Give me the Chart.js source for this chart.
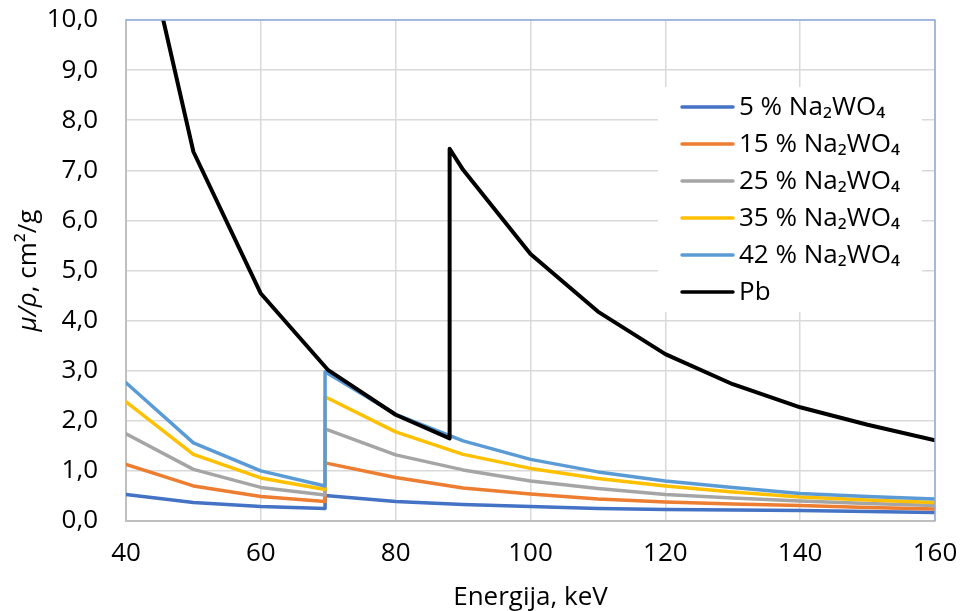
<!DOCTYPE html>
<html>
<head>
<meta charset="utf-8">
<script src="https://cdn.jsdelivr.net/npm/chart.js@4.4.1/dist/chart.umd.min.js"></script>
<style>
  html, body { margin: 0; padding: 0; background: #fff; }
  #wrap { width: 961px; height: 611px; }
</style>
</head>
<body>
<div id="wrap"><canvas id="chart" width="961" height="611"></canvas></div>
<script>
// ─── Data ───
var naEnergy = [40, 50, 60, 69.525, 69.525, 80, 90, 100, 110, 120, 130, 140, 150, 160];
var pbEnergy = [40, 50, 60, 70, 80, 88.0045, 88.0045, 90, 100, 110, 120, 130, 140, 150, 160];

var na5  = [0.53, 0.37, 0.29, 0.25, 0.51, 0.39, 0.33, 0.29, 0.25, 0.23, 0.22, 0.21, 0.19, 0.17];
var na15 = [1.13, 0.70, 0.49, 0.39, 1.16, 0.87, 0.66, 0.54, 0.44, 0.38, 0.34, 0.31, 0.27, 0.24];
var na25 = [1.74, 1.03, 0.67, 0.52, 1.84, 1.32, 1.02, 0.80, 0.65, 0.53, 0.46, 0.40, 0.35, 0.31];
var na35 = [2.38, 1.33, 0.86, 0.63, 2.48, 1.78, 1.33, 1.05, 0.85, 0.70, 0.58, 0.48, 0.42, 0.37];
var na42 = [2.76, 1.56, 1.00, 0.70, 2.98, 2.13, 1.60, 1.23, 0.98, 0.80, 0.67, 0.55, 0.49, 0.44];
var pb   = [13.25, 7.37, 4.54, 3.01, 2.12, 1.65, 7.43, 7.01, 5.33, 4.18, 3.33, 2.73, 2.27, 1.92, 1.61];

var seriesLabels = ['5 % Na\u2082WO\u2084', '15 % Na\u2082WO\u2084', '25 % Na\u2082WO\u2084',
                    '35 % Na\u2082WO\u2084', '42 % Na\u2082WO\u2084', 'Pb'];
var seriesColors = ['#4472C4', '#ED7D31', '#A5A5A5', '#FFC000', '#5B9BD5', '#000000'];

var FONT = 'Open Sans';

function pts(xs, ys) {
  return xs.map(function (x, i) { return { x: x, y: ys[i] }; });
}

var seriesData = [pts(naEnergy, na5), pts(naEnergy, na15), pts(naEnergy, na25),
                  pts(naEnergy, na35), pts(naEnergy, na42), pts(pbEnergy, pb)];

var datasets = seriesData.map(function (d, i) {
  return {
    label: seriesLabels[i],
    data: d,
    borderColor: seriesColors[i],
    backgroundColor: seriesColors[i],
    borderWidth: i === 5 ? 4 : 3.5,
    pointRadius: 0,
    tension: 0,
    borderJoinStyle: 'round',
    borderCapStyle: 'round',
    fill: false,
    order: 6 - i   // later series drawn on top, like the original
  };
});

// ─── Extras: frame, legend box, y title ───
var decor = {
  id: 'decor',
  afterDraw: function (chart) {
    var ctx = chart.ctx, a = chart.chartArea;
    ctx.save();

    // light blue frame on top and right
    ctx.strokeStyle = '#8FAADC';
    ctx.lineWidth = 1.5;
    ctx.beginPath();
    ctx.moveTo(a.left, a.top);
    ctx.lineTo(a.right, a.top);
    ctx.lineTo(a.right, a.bottom);
    ctx.stroke();

    // legend
    ctx.fillStyle = '#fff';
    ctx.fillRect(658, 87, 264, 225);
    ctx.font = '26px "' + FONT + '"';
    ctx.textBaseline = 'middle';
    ctx.textAlign = 'left';
    seriesLabels.forEach(function (lab, i) {
      var y = 107 + i * 37;
      ctx.strokeStyle = seriesColors[i];
      ctx.lineWidth = 3.5;
      ctx.lineCap = 'round';
      ctx.beginPath();
      ctx.moveTo(682, y);
      ctx.lineTo(733, y);
      ctx.stroke();
      ctx.fillStyle = '#000';
      ctx.fillText(lab, 739, y + 1);
    });

    // y axis title, mixed italic / upright
    var cy = (a.top + a.bottom) / 2;
    ctx.translate(29, cy);
    ctx.rotate(-Math.PI / 2);
    var p1 = '\u03bc/\u03c1', p2 = ', cm\u00b2/g';
    ctx.font = 'italic 26px "' + FONT + '"';
    var w1 = ctx.measureText(p1).width;
    ctx.font = '26px "' + FONT + '"';
    var w2 = ctx.measureText(p2).width;
    var x0 = -(w1 + w2) / 2;
    ctx.fillStyle = '#000';
    ctx.font = 'italic 26px "' + FONT + '"';
    ctx.fillText(p1, x0, 0);
    ctx.font = '26px "' + FONT + '"';
    ctx.fillText(p2, x0 + w1, 0);

    ctx.restore();
  }
};

new Chart(document.getElementById('chart'), {
  type: 'line',
  data: { datasets: datasets },
  options: {
    responsive: false,
    animation: false,
    layout: { padding: { top: 20, right: 26, left: 0, bottom: 0 } },
    plugins: {
      legend: { display: false },
      tooltip: { enabled: false }
    },
    scales: {
      x: {
        type: 'linear',
        min: 40,
        max: 160,
        ticks: { stepSize: 20, color: '#000', padding: 17, font: { family: FONT, size: 26 } },
        grid: { color: '#d9d9d9', lineWidth: 1.5, drawTicks: false },
        border: { color: '#bfbfbf', width: 2 },
        title: {
          display: true,
          text: 'Energija, keV',
          color: '#000',
          font: { family: FONT, size: 26, lineHeight: 1 },
          padding: { top: 0, bottom: 0 }
        },
        afterFit: function (s) {
          s.height = 90;
          s.paddingLeft = 0;
          s.paddingRight = 0;
        }
      },
      y: {
        min: 0,
        max: 10,
        ticks: {
          stepSize: 1,
          color: '#000',
          padding: 28,
          font: { family: FONT, size: 26 },
          callback: function (v) { return v.toFixed(1).replace('.', ','); }
        },
        grid: { color: '#d9d9d9', lineWidth: 1.5, drawTicks: false },
        border: { color: '#bfbfbf', width: 2 },
        afterFit: function (s) {
          s.width = 126;
          s.paddingTop = 0;
          s.paddingBottom = 0;
        }
      }
    }
  },
  plugins: [decor]
});
</script>
</body>
</html>
